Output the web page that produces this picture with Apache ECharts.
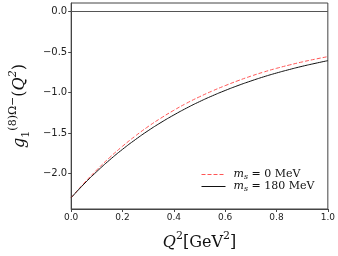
<!DOCTYPE html>
<html><head><meta charset="utf-8">
<script src="https://cdn.jsdelivr.net/npm/echarts@6/dist/echarts.min.js"></script>
<style>html,body{margin:0;padding:0;background:#fff}#c{width:338px;height:256px}</style>
</head><body><div id="c"></div>
<script>
const q2 = [0,0.05,0.1,0.15,0.2,0.25,0.3,0.35,0.4,0.45,0.5,0.55,0.6,0.65,0.7,0.75,0.8,0.85,0.9,0.95,1.0];
const g0MeV = [-2.300,-2.121,-1.956,-1.803,-1.664,-1.537,-1.420,-1.315,-1.219,-1.131,-1.052,-0.980,-0.914,-0.853,-0.797,-0.746,-0.700,-0.659,-0.621,-0.587,-0.555];
const g180MeV = [-2.300,-2.131,-1.976,-1.833,-1.702,-1.582,-1.471,-1.370,-1.277,-1.191,-1.112,-1.040,-0.974,-0.913,-0.857,-0.805,-0.758,-0.715,-0.675,-0.639,-0.605];
const yTicks = [-2.0,-1.5,-1.0,-0.5,0.0];
const fmt = v => (v < 0 ? '\u2212' : '') + Math.abs(v).toFixed(1);
const chart = echarts.init(document.getElementById('c'));
const serif = '"DejaVu Serif", "Liberation Serif", serif';
const sans = '"DejaVu Sans", sans-serif';
chart.setOption({
  animation: false,
  grid: {left: 52, right: 9, top: 3, bottom: 34, show: true, borderColor: '#444', borderWidth: 1},
  xAxis: {type: 'value', min: 0, max: 1, interval: 0.2,
    axisLine: {show: true, onZero: false, lineStyle: {color: '#444'}},
    axisTick: {show: true, length: 3, lineStyle: {color: '#444'}},
    splitLine: {show: false},
    axisLabel: {fontFamily: sans, fontSize: 9, color: '#222', margin: 4, formatter: v => v.toFixed(1)},
    name: '{i|Q}{sup|2}{t|[GeV}{sup|2}{t|]}', nameLocation: 'middle', nameGap: 22,
    nameTextStyle: {rich: {
      i: {fontFamily: serif, fontStyle: 'italic', fontSize: 16, color: '#111', lineHeight: 20, verticalAlign: 'bottom'},
      t: {fontFamily: serif, fontSize: 16, color: '#111', lineHeight: 20, verticalAlign: 'bottom'},
      sup: {fontFamily: serif, fontSize: 11, color: '#111', lineHeight: 20, verticalAlign: 'top'}
    }}
  },
  yAxis: {type: 'value', min: -2.44, max: 0.108,
    axisLine: {show: true, onZero: false, lineStyle: {color: '#444'}},
    axisTick: {show: true, length: 3, customValues: yTicks, lineStyle: {color: '#444'}},
    splitLine: {show: false},
    axisLabel: {fontFamily: sans, fontSize: 10, color: '#222', margin: 4, customValues: yTicks, formatter: fmt},
    name: '{i|g}{sub|1}{sup|(8)\u03A9\u2212}{t|(}{i|Q}{sup2|2}{t|)}', nameLocation: 'middle', nameGap: 31, nameRotate: 90,
    nameTextStyle: {rich: {
      i: {fontFamily: serif, fontStyle: 'italic', fontSize: 16, color: '#111', lineHeight: 24, verticalAlign: 'middle'},
      t: {fontFamily: serif, fontSize: 16, color: '#111', lineHeight: 24, verticalAlign: 'middle'},
      sub: {fontFamily: serif, fontSize: 11, color: '#111', lineHeight: 24, verticalAlign: 'bottom'},
      sup: {fontFamily: serif, fontSize: 11, color: '#111', lineHeight: 24, verticalAlign: 'top'},
      sup2: {fontFamily: serif, fontStyle: 'italic', fontSize: 11, color: '#111', lineHeight: 24, verticalAlign: 'top'}
    }}
  },
  legend: {
    left: 196, top: 164, orient: 'vertical', itemWidth: 24, itemHeight: 10, itemGap: 0,
    itemStyle: {opacity: 0},
    lineStyle: {width: 1},
    data: ['a', 'b'],
    formatter: n => n === 'a' ? '{i|m}{s|s}{t| = 0 MeV}' : '{i|m}{s|s}{t| = 180 MeV}',
    textStyle: {padding: [0,0,0,3], rich: {
      i: {fontFamily: serif, fontStyle: 'italic', fontSize: 11, color: '#111'},
      s: {fontFamily: serif, fontStyle: 'italic', fontSize: 8, color: '#111', padding: [5,0,0,0]},
      t: {fontFamily: serif, fontSize: 11, color: '#111'}
    }}
  },
  series: [
    {name: 'a', type: 'line', data: q2.map((x,i)=>[x,g0MeV[i]]), smooth: true, symbol: 'none',
     lineStyle: {color: '#ff5555', width: 1, type: [4,2]}, itemStyle: {color: '#ff5555'},
     markLine: {silent: true, symbol: 'none', label: {show: false}, lineStyle: {color: '#555', width: 1, type: 'solid'}, data: [{yAxis: 0}]}},
    {name: 'b', type: 'line', data: q2.map((x,i)=>[x,g180MeV[i]]), smooth: true, symbol: 'none',
     lineStyle: {color: '#111', width: 1}, itemStyle: {color: '#111'}}
  ]
});
</script></body></html>
